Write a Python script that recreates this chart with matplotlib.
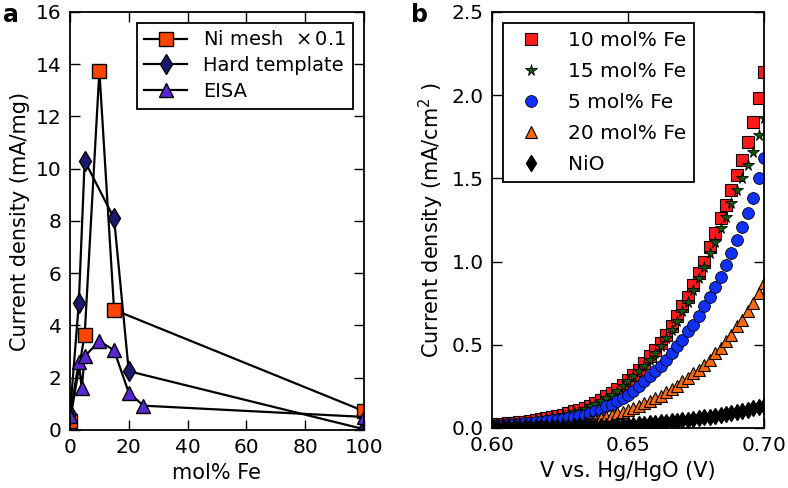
import matplotlib
matplotlib.use("Agg")
import matplotlib.pyplot as plt

plt.rcParams['font.family'] = ['DejaVu Sans']
plt.rcParams['mathtext.fontset'] = 'dejavusans'

# ---------------- Panel a data ----------------
ni_mesh_x = [0, 5, 10, 15, 100]
ni_mesh_y = [0.35, 3.65, 13.75, 4.6, 0.72]
hard_x = [0, 3, 5, 15, 20, 100]
hard_y = [0.6, 4.85, 10.3, 8.1, 2.25, 0.03]
eisa_x = [0, 3, 4, 5, 10, 15, 20, 25, 100]
eisa_y = [0.55, 2.6, 1.6, 2.82, 3.4, 3.05, 1.43, 0.93, 0.5]

# ---------------- Panel b data ----------------
V = [0.600, 0.602, 0.604, 0.606, 0.608, 0.610, 0.612, 0.614, 0.616, 0.618,
     0.620, 0.622, 0.624, 0.626, 0.628, 0.630, 0.632, 0.634, 0.636, 0.638,
     0.640, 0.642, 0.644, 0.646, 0.648, 0.650, 0.652, 0.654, 0.656, 0.658,
     0.660, 0.662, 0.664, 0.666, 0.668, 0.670, 0.672, 0.674, 0.676, 0.678,
     0.680, 0.682, 0.684, 0.686, 0.688, 0.690, 0.692, 0.694, 0.696, 0.698,
     0.700]
fe10 = [0.020, 0.022, 0.025, 0.028, 0.031, 0.034, 0.038, 0.042, 0.047, 0.052,
        0.058, 0.065, 0.072, 0.080, 0.090, 0.100, 0.110, 0.120, 0.135, 0.150,
        0.170, 0.190, 0.210, 0.235, 0.260, 0.290, 0.320, 0.350, 0.390, 0.430,
        0.470, 0.510, 0.560, 0.610, 0.670, 0.730, 0.790, 0.860, 0.930, 1.000,
        1.090, 1.170, 1.260, 1.340, 1.430, 1.520, 1.610, 1.720, 1.840, 1.980,
        2.140]
fe15 = [0.020, 0.022, 0.025, 0.028, 0.031, 0.034, 0.037, 0.041, 0.046, 0.051,
        0.057, 0.063, 0.070, 0.077, 0.085, 0.095, 0.105, 0.115, 0.130, 0.145,
        0.160, 0.180, 0.200, 0.225, 0.250, 0.280, 0.310, 0.340, 0.370, 0.410,
        0.450, 0.490, 0.540, 0.590, 0.640, 0.700, 0.760, 0.830, 0.900, 0.970,
        1.050, 1.120, 1.200, 1.270, 1.350, 1.430, 1.500, 1.580, 1.660, 1.760,
        1.860]
fe5 = [0.016, 0.018, 0.020, 0.022, 0.024, 0.026, 0.028, 0.031, 0.034, 0.037,
       0.040, 0.045, 0.050, 0.055, 0.060, 0.065, 0.070, 0.080, 0.090, 0.100,
       0.110, 0.130, 0.140, 0.160, 0.180, 0.200, 0.220, 0.250, 0.280, 0.310,
       0.340, 0.370, 0.410, 0.450, 0.490, 0.530, 0.580, 0.620, 0.670, 0.730,
       0.790, 0.850, 0.910, 0.980, 1.050, 1.130, 1.210, 1.290, 1.380, 1.500,
       1.620]
fe20 = [0.003, 0.004, 0.004, 0.005, 0.005, 0.006, 0.006, 0.007, 0.008, 0.009,
        0.010, 0.011, 0.013, 0.016, 0.020, 0.024, 0.029, 0.035, 0.042, 0.049,
        0.057, 0.066, 0.076, 0.087, 0.098, 0.110, 0.120, 0.135, 0.150, 0.165,
        0.180, 0.195, 0.215, 0.235, 0.255, 0.280, 0.300, 0.330, 0.350, 0.380,
        0.410, 0.450, 0.480, 0.520, 0.560, 0.610, 0.650, 0.700, 0.750, 0.810,
        0.870]
nio = [0.003, 0.003, 0.004, 0.004, 0.004, 0.005, 0.005, 0.005, 0.006, 0.006,
       0.006, 0.007, 0.007, 0.008, 0.008, 0.009, 0.009, 0.010, 0.010, 0.011,
       0.011, 0.012, 0.013, 0.015, 0.016, 0.018, 0.020, 0.022, 0.025, 0.027,
       0.030, 0.033, 0.036, 0.039, 0.042, 0.046, 0.050, 0.054, 0.058, 0.063,
       0.068, 0.073, 0.078, 0.084, 0.090, 0.096, 0.103, 0.110, 0.118, 0.125,
       0.130]

a_xticks = [0, 20, 40, 60, 80, 100]
a_yticks = [0, 2, 4, 6, 8, 10, 12, 14, 16]
b_xticks = [0.60, 0.65, 0.70]
b_yticks = [0.0, 0.5, 1.0, 1.5, 2.0, 2.5]

TFS = 14.5   # tick labels
LFS = 15     # axis labels
GFS = 14     # legend

fig = plt.figure(figsize=(7.88, 4.88), dpi=100)
axa = fig.add_axes([0.0888, 0.1189, 0.3731, 0.8566])
axb = fig.add_axes([0.6244, 0.1230, 0.3452, 0.8525])

for ax in (axa, axb):
    ax.tick_params(direction='in', top=True, right=True, labelsize=TFS,
                   length=7, width=1, pad=6)
    for s in ax.spines.values():
        s.set_linewidth(1.3)

# Panel a
axa.plot(ni_mesh_x, ni_mesh_y, '-s', color='black', lw=1.6,
         markerfacecolor='#ff4500', markeredgecolor='black', markersize=9.5,
         label=r'Ni mesh  $\times\,0.1$')
axa.plot(hard_x, hard_y, '-d', color='black', lw=1.6,
         markerfacecolor='#191970', markeredgecolor='black', markersize=10.5,
         label='Hard template')
axa.plot(eisa_x, eisa_y, '-^', color='black', lw=1.6,
         markerfacecolor='#5a28d2', markeredgecolor='black', markersize=10.5,
         label='EISA')
axa.set_xlim(0, 100)
axa.set_ylim(0, 16)
axa.set_xticks(a_xticks)
axa.set_yticks(a_yticks)
axa.set_xlabel('mol% Fe', fontsize=LFS)
axa.set_ylabel('Current density (mA/mg)', fontsize=LFS)
leg = axa.legend(loc='upper right', fontsize=GFS, fancybox=False,
                 framealpha=1, edgecolor='black', handlelength=2.2,
                 borderaxespad=0.55, labelspacing=0.35)
leg.get_frame().set_linewidth(1.3)

# Panel b
axb.plot(V, fe10, 's', markerfacecolor='#ff1a1a', markeredgecolor='black',
         markersize=8.5, markeredgewidth=0.8, label='10 mol% Fe')
axb.plot(V, fe15, '*', markerfacecolor='#0a5a0a', markeredgecolor='black',
         markersize=8.5, markeredgewidth=0.6, label='15 mol% Fe')
axb.plot(V, fe5, 'o', markerfacecolor='#1030ff', markeredgecolor='black',
         markersize=8.5, markeredgewidth=0.6, label='5 mol% Fe')
axb.plot(V, fe20, '^', markerfacecolor='#ff6a10', markeredgecolor='black',
         markersize=8.5, markeredgewidth=0.8, label='20 mol% Fe')
axb.plot(V, nio, 'd', markerfacecolor='black', markeredgecolor='black',
         markersize=8.5, label='NiO')
axb.set_xlim(0.60, 0.70)
axb.set_ylim(0, 2.5)
axb.set_xticks(b_xticks)
axb.set_yticks(b_yticks)
axb.set_xticklabels(['0.60', '0.65', '0.70'])
axb.set_yticklabels(['0.0', '0.5', '1.0', '1.5', '2.0', '2.5'])
axb.set_xlabel('V vs. Hg/HgO (V)', fontsize=LFS)
axb.set_ylabel(r'Current density (mA/cm$^2$ )', fontsize=LFS)
legb = axb.legend(loc='upper left', fontsize=GFS + 0.5, fancybox=False,
                  framealpha=1, edgecolor='black', numpoints=1,
                  handlelength=2.0, borderaxespad=0.55, labelspacing=0.6)
legb.get_frame().set_linewidth(1.3)

fig.text(0.004, 0.955, 'a', fontsize=17, fontweight='bold', va='baseline')
fig.text(0.522, 0.955, 'b', fontsize=17, fontweight='bold', va='baseline')

fig.savefig('out.png', dpi=100)
